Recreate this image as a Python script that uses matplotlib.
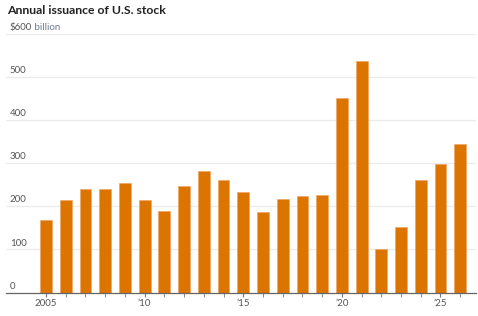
import matplotlib.pyplot as plt

years = list(range(2005, 2027))
issuance = [168, 215, 240, 240, 254, 215, 189, 246, 281, 260, 233,
            186, 216, 224, 227, 451, 536, 101, 151, 260, 297, 343]
yticks = [0, 100, 200, 300, 400, 500]
xtick_years = [2005, 2010, 2015, 2020, 2025]
xtick_labels = ["2005", "\u201910", "\u201915", "\u201920", "\u201925"]

plt.rcParams['font.family'] = ['Lato', 'DejaVu Sans']

fig = plt.figure(figsize=(4.78, 3.16), dpi=100)
ax = fig.add_axes([6 / 478, 23.5 / 316, 470 / 478, 259 / 316])

ax.bar(years, issuance, width=0.6, color='#dc7400', edgecolor='#f0a060',
       linewidth=0.4, zorder=3)

ax.set_xlim(2002.97, 2026.8)
ax.set_ylim(0, 600)

# gridlines with labels sitting above them
for v in yticks[1:] + [600]:
    ax.axhline(v, color='#ebebeb', linewidth=0.9, zorder=1)
for v in yticks:
    ax.text(0.008, v + 4, str(v), transform=ax.get_yaxis_transform(),
            fontsize=7, color='#555555', va='bottom', ha='left')
top = ax.text(0.008, 604, "$600", transform=ax.get_yaxis_transform(),
              fontsize=7, color='#555555', va='bottom', ha='left')
ax.annotate(" billion", xy=(1, 0), xycoords=top, fontsize=7,
            color='#6b7a8f', va='bottom', ha='left')

ax.set_yticks([])
ax.set_xticks(years, minor=True)
ax.set_xticks(xtick_years)
ax.set_xticklabels(xtick_labels, fontsize=7, color='#555555')
ax.tick_params(axis='x', which='both', length=3, color='#777777', pad=2)
for s in ['top', 'right', 'left']:
    ax.spines[s].set_visible(False)
ax.spines['bottom'].set_color('#666666')
ax.spines['bottom'].set_linewidth(0.9)
ax.spines['bottom'].set_zorder(4)

fig.text(7 / 478, 1 - 11 / 316, "Annual issuance of U.S. stock",
         fontsize=8.8, fontweight='bold', color='#222222', va='center')

fig.savefig('out.png', dpi=100)
